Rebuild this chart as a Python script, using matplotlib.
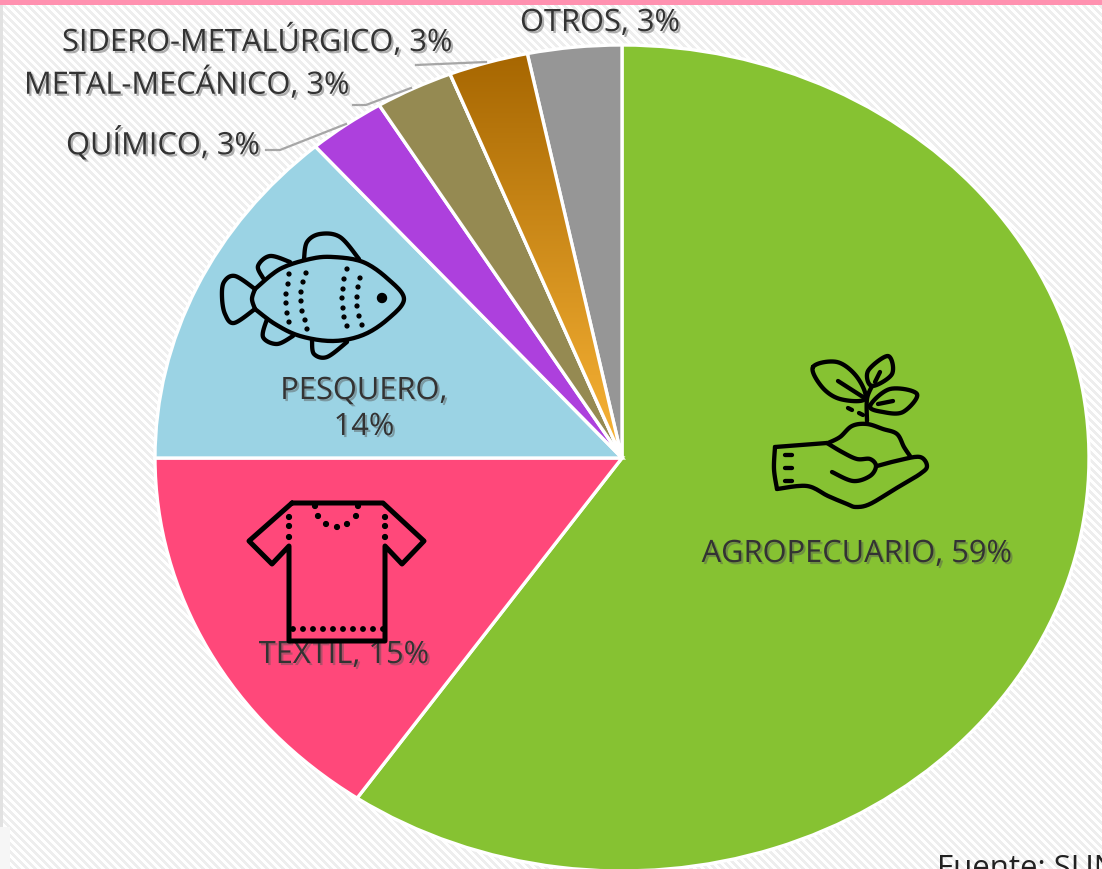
import numpy as np
import matplotlib
matplotlib.use("Agg")
import matplotlib.pyplot as plt
import matplotlib.patheffects as pe
from matplotlib.colors import LinearSegmentedColormap
from matplotlib.patches import Circle, PathPatch, Rectangle, Wedge
from matplotlib.path import Path

WIDTH, HEIGHT = 1102, 870

sectors = ["AGROPECUARIO", "TEXTIL", "PESQUERO", "QUÍMICO", "METAL-MECÁNICO", "SIDERO-METALÚRGICO", "OTROS"]
shares = [59, 15, 14, 3, 3, 3, 3]
# slice sizes as measured on the picture, the printed shares are rounded
values = [59.6, 15.4, 13.6, 2.7, 2.7, 2.75, 3.25]
colors = ["#86c232", "#ff487a", "#9bd3e4", "#ad40dd", "#958a52", "#a56500", "#969696"]

plt.rcParams["font.family"] = ["Open Sans", "DejaVu Sans"]


def smooth(points, closed=False, steps=12):
    pts = np.array(points, dtype=float)
    if closed:
        pts = np.vstack([pts[-1], pts, pts[0], pts[1]])
    else:
        pts = np.vstack([pts[0], pts, pts[-1]])
    out = []
    for i in range(1, len(pts) - 2):
        p0, p1, p2, p3 = pts[i - 1], pts[i], pts[i + 1], pts[i + 2]
        for t in np.linspace(0, 1, steps, endpoint=False):
            out.append(0.5 * (2 * p1 + (p2 - p0) * t + (2 * p0 - 5 * p1 + 4 * p2 - p3) * t ** 2
                              + (3 * p1 - p0 - 3 * p2 + p3) * t ** 3))
    out.append(pts[-2])
    return np.array(out)


def stroke(ax, points, lw=3.1, closed=False, curved=True):
    line = smooth(points, closed) if curved else np.array(points, dtype=float)
    codes = [Path.MOVETO] + [Path.LINETO] * (len(line) - 1)
    ax.add_patch(PathPatch(Path(line, codes), fill=False, edgecolor="black", linewidth=lw,
                           capstyle="round", joinstyle="round", zorder=7))


def dots(ax, points, r=2.2):
    for x, y in points:
        ax.add_patch(Circle((x, y), r, color="black", zorder=7))


def draw_fish(ax):
    stroke(ax, [(255, 290), (280, 270), (310, 260), (333, 258), (363, 263), (388, 280), (404, 300),
                (388, 320), (363, 336), (333, 342), (300, 337), (275, 325), (255, 310)])
    stroke(ax, [(255, 290), (252, 300), (255, 310)])
    stroke(ax, [(255, 290), (235, 277), (224, 283), (222, 298), (225, 315), (234, 324), (255, 310)])
    stroke(ax, [(304, 260), (307, 243), (320, 235), (340, 238), (359, 260)])
    stroke(ax, [(263, 279), (258, 267), (270, 257), (290, 263)])
    stroke(ax, [(267, 320), (263, 338), (277, 345), (293, 337)])
    stroke(ax, [(312, 342), (314, 355), (327, 358), (347, 343)])
    ax.add_patch(Circle((382, 299), 4.5, color="black", zorder=7))
    dots(ax, [(289, 275), (288, 285), (286, 295), (286, 304), (287, 314), (289, 323)], 1.9)
    dots(ax, [(306, 274), (303, 283), (301, 293), (301, 302), (302, 312), (305, 321), (307, 330)], 1.9)
    dots(ax, [(347, 270), (344, 280), (343, 290), (342, 299), (343, 309), (344, 318), (347, 327)], 1.9)
    dots(ax, [(360, 279), (358, 288), (357, 298), (357, 307), (359, 317), (362, 326)], 1.9)


def draw_shirt(ax):
    outline = [(292, 504), (383, 504), (424, 542), (402, 565), (385, 547), (385, 642), (289, 642),
               (289, 547), (272, 565), (249, 542), (292, 504)]
    stroke(ax, outline, lw=3.6, curved=False)
    dots(ax, [(289, 518), (289, 527), (289, 538), (385, 518), (385, 527), (385, 538)], 2.4)
    dots(ax, [(318, 517), (326, 525), (337, 528), (347, 525), (356, 517), (315, 507), (358, 507)], 2.4)
    dots(ax, [(x, 630) for x in range(293, 384, 10)], 2.2)


def draw_plant(ax):
    # hand
    stroke(ax, [(775, 448), (827, 444)], curved=False)
    stroke(ax, [(775, 448), (774, 470), (777, 490)])
    stroke(ax, [(777, 490), (807, 487), (828, 497), (847, 505), (856, 508), (870, 505), (895, 490),
                (920, 475), (927, 467), (920, 458), (900, 461), (877, 467)])
    stroke(ax, [(827, 444), (842, 453), (857, 460), (870, 460), (876, 467), (870, 477), (853, 482), (832, 473)])
    for y in (456, 469, 482):
        stroke(ax, [(785, y), (792, y)], curved=False)
    # soil
    stroke(ax, [(828, 444), (840, 438), (852, 427), (867, 425), (883, 430), (897, 435), (904, 448), (910, 457)])
    # stem and leaves
    stroke(ax, [(867, 422), (867, 400), (872, 387)])
    stroke(ax, [(813, 368), (837, 363), (857, 378), (865, 400), (840, 400), (822, 388)], closed=True)
    stroke(ax, [(838, 382), (863, 398)], curved=False)
    stroke(ax, [(872, 387), (868, 372), (888, 357), (892, 375)], closed=True)
    stroke(ax, [(875, 383), (880, 373)], curved=False)
    stroke(ax, [(870, 407), (890, 390), (917, 395), (903, 413), (883, 413)], closed=True)
    stroke(ax, [(878, 405), (893, 402)], curved=False)
    stroke(ax, [(848, 409), (852, 411)], curved=False)
    stroke(ax, [(859, 414), (863, 416)], curved=False)


def label(ax, x, y, text, ha="center"):
    shadow = [pe.SimplePatchShadow(offset=(1.5, -1.5), shadow_rgbFace="#555555", alpha=0.45), pe.Normal()]
    ax.text(x, y, text, ha=ha, va="center", fontsize=22.2, color="#333333", path_effects=shadow, zorder=6)


def main():
    fig = plt.figure(figsize=(WIDTH / 100, HEIGHT / 100), dpi=100)

    back = fig.add_axes([0, 0, 1, 1], zorder=0)
    yy, xx = np.mgrid[0:HEIGHT, 0:WIDTH]
    stripes = ((xx - yy) % 8 < 4).astype(float)
    back.imshow(stripes, cmap=LinearSegmentedColormap.from_list("bg", ["#eeeeee", "#ffffff"]),
                extent=(0, WIDTH, HEIGHT, 0), interpolation="bilinear", aspect="auto")
    back.add_patch(Rectangle((0, 0), WIDTH, 6, color="#ff91b0", lw=0))
    back.add_patch(Rectangle((0, 6), 3, 822, color="#e2e2e2", lw=0))
    back.add_patch(Rectangle((0, 828), 10, 42, color="#f6f6f6", lw=0))
    back.set_xlim(0, WIDTH)
    back.set_ylim(HEIGHT, 0)
    back.axis("off")

    # the pie is stretched in the original: 467 px wide radius, 413 px tall, centre at (622, 459)
    pie_ax = fig.add_axes([0, 0, 1, 1], zorder=1)
    pie_ax.patch.set_alpha(0)
    wedges, _ = pie_ax.pie(values, colors=colors, startangle=90, counterclock=False,
                           wedgeprops={"edgecolor": "white", "linewidth": 2.4})
    sidero = wedges[5]
    ramp = LinearSegmentedColormap.from_list("sidero", ["#a56500", "#fab537"])
    image = pie_ax.imshow(np.linspace(0, 1, 256)[:, None], cmap=ramp, extent=(-0.4, 0, 0, 1),
                          aspect="auto", origin="upper", zorder=2)
    image.set_clip_path(sidero)
    pie_ax.add_patch(Wedge(sidero.center, sidero.r, sidero.theta1, sidero.theta2, fill=False,
                           edgecolor="white", linewidth=2.4, zorder=3))
    pie_ax.set_aspect("auto")
    pie_ax.set_xlim(-622 / 467, (WIDTH - 622) / 467)
    pie_ax.set_ylim(-(HEIGHT - 459) / 413, 459 / 413)
    pie_ax.axis("off")

    top = fig.add_axes([0, 0, 1, 1], zorder=2)
    top.patch.set_alpha(0)
    top.set_xlim(0, WIDTH)
    top.set_ylim(HEIGHT, 0)
    top.axis("off")

    texts = [f"{name}, {share}%" for name, share in zip(sectors, shares)]
    label(top, 857, 555, texts[0])
    label(top, 344, 656, texts[1])
    label(top, 364, 392, f"{sectors[2]},")
    label(top, 364, 428, f"{shares[2]}%")
    label(top, 66, 145, texts[3], ha="left")
    label(top, 24, 85, texts[4], ha="left")
    label(top, 62, 42, texts[5], ha="left")
    label(top, 520, 24, texts[6], ha="left")

    leader = {"color": "#a6a6a6", "linewidth": 1.6, "zorder": 4}
    top.plot([416, 486], [66, 63], **leader)
    top.plot([353, 366, 411], [106, 106, 89], **leader)
    top.plot([266, 280, 346], [151, 151, 125], **leader)

    draw_fish(top)
    draw_shirt(top)
    draw_plant(top)

    top.text(937, 869, "Fuente: SUNAT", ha="left", va="center", fontsize=22.5, color="#222222", clip_on=True)

    fig.savefig("out.png", dpi=100)
    plt.close(fig)


if __name__ == "__main__":
    main()
